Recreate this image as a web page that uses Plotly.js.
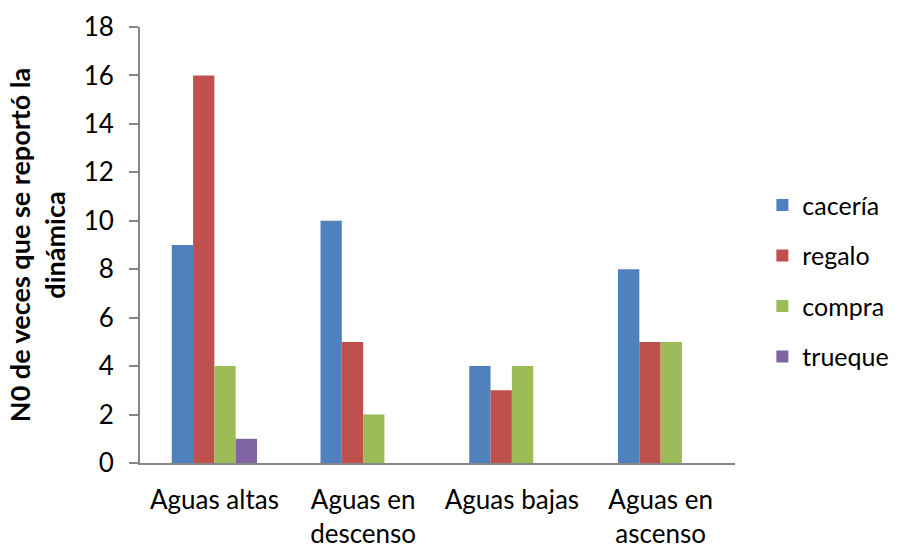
<!DOCTYPE html>
<html>
<head>
<meta charset="utf-8">
<script src="https://cdn.plot.ly/plotly-3.0.1.min.js"></script>
<style>
  html, body { margin: 0; padding: 0; background: #ffffff; }
  #chart { width: 906px; height: 549px; }
</style>
</head>
<body>
<div id="chart"></div>
<script>
// Periods of the water level cycle
const categories = ['Aguas altas', 'Aguas en<br>descenso', 'Aguas bajas', 'Aguas en<br>ascenso'];

// Number of times each exchange dynamic was reported per period
const caceria = [9, 10, 4, 8];
const regalo  = [16, 5, 3, 5];
const compra  = [4, 2, 4, 5];
const trueque = [1, null, null, null];

const seriesNames  = ['cacería', 'regalo', 'compra', 'trueque'];
const seriesValues = [caceria, regalo, compra, trueque];
const seriesColors = ['#4F81BD', '#C0504D', '#9BBB59', '#8064A2'];

// y-axis ticks
const yTicks = [0, 2, 4, 6, 8, 10, 12, 14, 16, 18];

const FONT = 'Lato, "Open Sans", "DejaVu Sans", sans-serif';

const traces = seriesNames.map((name, i) => ({
  type: 'bar',
  name: name,
  x: categories,
  y: seriesValues[i],
  legendgroup: 'g' + i,
  marker: { color: seriesColors[i], line: { width: 0 } },
  hoverinfo: 'x+y+name'
}));

const layout = {
  width: 906,
  height: 549,
  paper_bgcolor: '#ffffff',
  plot_bgcolor: '#ffffff',
  margin: { l: 140, r: 166, t: 27, b: 86, pad: 0 },
  font: { family: FONT, size: 26, color: '#000000' },
  barmode: 'group',
  bargap: 0.427,
  bargroupgap: 0,
  showlegend: true,
  legend: {
    x: 1.046,
    xanchor: 'left',
    y: 0.418,
    yanchor: 'middle',
    font: { family: FONT, size: 25, color: '#000000' },
    tracegroupgap: 15,
    traceorder: 'grouped',
    bgcolor: 'rgba(0,0,0,0)',
    borderwidth: 0
  },
  xaxis: {
    type: 'category',
    showline: true,
    linecolor: '#868686',
    linewidth: 2,
    ticks: '',
    showgrid: false,
    zeroline: false,
    ticklabelstandoff: 13,
    tickfont: { family: FONT, size: 26, color: '#000000' },
    automargin: false
  },
  yaxis: {
    range: [0, 18],
    tickvals: yTicks,
    ticktext: yTicks.map(String),
    showline: true,
    linecolor: '#868686',
    linewidth: 2,
    ticks: 'outside',
    ticklen: 9,
    tickwidth: 2,
    tickcolor: '#868686',
    ticklabelstandoff: 10,
    showgrid: false,
    zeroline: false,
    tickfont: { family: FONT, size: 26, color: '#000000' },
    automargin: false,
    title: {
      text: 'N0 de veces que se reportó la<br>dinámica',
      font: { family: FONT, size: 27, color: '#000000', weight: 'bold' },
      standoff: 10
    }
  }
};

Plotly.newPlot('chart', traces, layout, { staticPlot: true, displayModeBar: false });
</script>
</body>
</html>
